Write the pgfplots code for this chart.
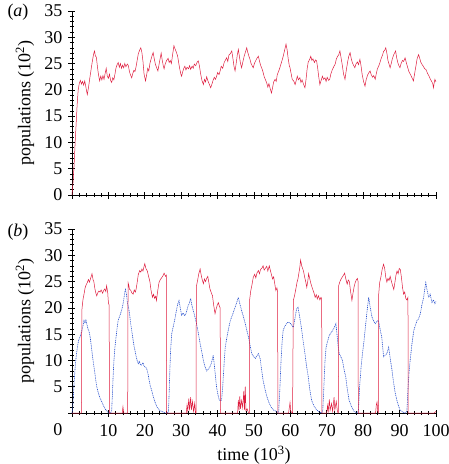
\documentclass[border=0pt]{standalone}
\usepackage{fontspec}
\setmainfont{Liberation Serif}
\usepackage{pgfplots}
\pgfplotsset{compat=1.18}
\definecolor{myred}{RGB}{222,28,62}
\definecolor{myblue}{RGB}{40,80,205}
\pgfplotsset{
  mystyle/.style={
    scale only axis, width=364pt, height=184pt,
    xmin=0, xmax=100, ymin=0, ymax=35,
    axis lines*=left,
    xtick={0,10,...,100}, ytick={0,5,...,35},
    minor x tick num=4, minor y tick num=4,
    tick align=center, major tick length=7pt, minor tick length=4pt,
    every tick/.style={black, line width=0.6pt},
    axis line style={line width=0.7pt},
    tick label style={font=\fontsize{18}{20}\selectfont, inner sep=0pt},
    label style={font=\fontsize{18}{20}\selectfont},
    /pgf/number format/assume math mode=true,
    yticklabel style={xshift=-6pt},
    xticklabel style={yshift=-8pt},
    ylabel={populations (10\textsuperscript{2})},
    ylabel style={at={(axis description cs:0,0.5)}, anchor=center, rotate=0, yshift=47pt},
    clip=false,
  }
}
\begin{document}
\begin{tikzpicture}
\path[use as bounding box] (-72pt,-269pt) rectangle (377pt,195pt);
\begin{axis}[mystyle, at={(0pt,0pt)}, anchor=south west, xticklabels={}]
\addplot[myred, line width=0.5pt] coordinates {
(0,0) (0.3,2.5) (0.6,6) (0.9,10.5) (1.1,13) (1.4,17) (1.7,20) (2.0,21.2) (2.3,21.8) (2.6,21.1) (2.9,21.6) (3.2,20.9) (3.5,21.7) (3.8,20.6) (4.0,19.8) (4.2,19.1) (4.5,20.3) (4.8,21.8) (5.1,23.2) (5.4,24.6) (5.7,25.9) (6.0,27.0) (6.2,27.4) (6.4,26.5) (6.7,26.2) (7.0,24.3) (7.3,22.8) (7.6,21.7) (7.9,22.6) (8.2,21.9) (8.5,22.7) (8.8,22.0) (9.1,23.1) (9.4,24.1) (9.7,22.6) (10.0,22.2) (10.3,23.0) (10.6,21.8) (10.9,21.4) (11.2,22.3) (11.5,21.9) (11.8,23.0) (12.1,24.2) (12.4,24.8) (12.7,25.2) (13.0,24.3) (13.3,25.0) (13.6,24.1) (13.9,24.7) (14.2,24.2) (14.5,25.0) (14.8,24.4) (15.2,24.9) (15.5,24.6) (15.8,23.4) (16.1,22.8) (16.4,22.3) (16.7,23.1) (17.0,23.7) (17.3,23.5) (17.6,24.4) (17.9,25.6) (18.2,26.8) (18.6,27.6) (18.9,28.0) (19.2,27.1) (19.5,25.4) (19.8,23.0) (20.2,21.7) (20.5,22.8) (20.8,24.1) (21.1,23.6) (21.4,25.0) (21.7,25.8) (22.0,26.5) (22.3,27.1) (22.6,25.9) (22.9,24.9) (23.2,24.3) (23.6,23.6) (23.9,24.8) (24.2,25.9) (24.5,27.0) (24.8,25.6) (25.1,24.5) (25.3,24.0) (25.6,24.9) (26.0,25.6) (26.4,26.0) (26.7,25.2) (27.0,25.6) (27.3,25.0) (27.6,26.5) (28.0,28.4) (28.3,27.8) (28.6,27.3) (29.0,26.5) (29.3,25.2) (29.6,24.0) (29.9,23.0) (30.1,22.6) (30.4,23.4) (30.7,24.1) (31.0,24.5) (31.3,23.8) (31.6,24.3) (32.0,24.0) (32.3,24.6) (32.6,23.9) (33.0,24.5) (33.3,24.1) (33.6,24.9) (34.0,24.6) (34.4,25.3) (34.7,25.5) (35.0,24.6) (35.3,23.2) (35.7,21.8) (36.1,21.0) (36.4,22.0) (36.7,21.5) (37.0,22.5) (37.3,21.8) (37.7,21.1) (38.1,20.4) (38.4,21.0) (38.8,21.9) (39.1,22.4) (39.4,22.0) (39.7,22.5) (40.0,23.3) (40.4,22.9) (40.7,23.6) (41.0,24.5) (41.4,24.1) (41.8,25.2) (42.1,25.6) (42.5,26.1) (42.8,25.4) (43.1,26.6) (43.5,26.9) (43.9,27.4) (44.2,26.0) (44.5,24.5) (44.8,23.6) (45.1,25.0) (45.4,26.6) (45.7,27.7) (46.0,26.3) (46.3,25.0) (46.6,24.2) (46.9,25.2) (47.3,26.4) (47.7,27.3) (48.0,28.0) (48.3,27.1) (48.6,26.4) (48.9,25.8) (49.2,25.0) (49.5,24.6) (49.8,24.2) (50.1,25.0) (50.5,25.6) (50.8,26.0) (51.2,26.4) (51.5,25.5) (51.8,24.7) (52.1,24.2) (52.4,23.6) (52.8,22.5) (53.1,22.0) (53.5,21.3) (53.8,20.5) (54.1,21.2) (54.5,20.1) (54.8,19.4) (55.1,20.4) (55.4,21.5) (55.8,22.0) (56.1,21.6) (56.4,22.9) (56.8,23.6) (57.1,24.2) (57.4,24.9) (57.8,25.8) (58.1,26.6) (58.4,27.5) (58.8,28.7) (59.1,27.6) (59.4,25.9) (59.7,24.6) (59.9,24.2) (60.2,23.1) (60.5,22.0) (60.9,21.7) (61.3,21.0) (61.6,21.8) (61.9,22.6) (62.2,21.9) (62.6,22.3) (62.9,21.4) (63.2,21.9) (63.6,21.1) (64.0,20.4) (64.3,22.0) (64.6,24.0) (64.9,25.3) (65.3,25.8) (65.6,26.4) (65.9,25.6) (66.2,25.9) (66.6,25.2) (66.9,25.7) (67.2,25.5) (67.5,24.1) (67.8,22.4) (68.1,21.0) (68.4,21.7) (68.8,22.6) (69.1,22.0) (69.5,22.3) (69.8,21.6) (70.1,22.4) (70.5,21.8) (70.8,22.0) (71.1,23.0) (71.5,23.8) (71.9,24.4) (72.3,24.9) (72.6,25.8) (72.9,26.3) (73.3,26.7) (73.6,27.4) (73.9,26.2) (74.3,24.5) (74.6,23.0) (75.0,22.0) (75.3,23.5) (75.7,25.2) (76.0,26.3) (76.4,27.1) (76.7,26.0) (77.0,25.2) (77.4,24.6) (77.7,24.2) (78.0,24.9) (78.4,25.3) (78.7,24.8) (79.1,25.8) (79.4,24.6) (79.7,23.0) (80.1,21.6) (80.5,20.7) (80.8,21.9) (81.2,22.8) (81.5,23.2) (81.9,23.6) (82.2,22.9) (82.6,22.4) (82.9,22.7) (83.3,22.0) (83.6,23.1) (83.9,24.0) (84.3,24.6) (84.6,25.2) (84.9,25.9) (85.3,26.6) (85.6,27.3) (85.9,27.5) (86.2,28.0) (86.5,27.0) (86.8,25.6) (87.1,24.9) (87.4,24.2) (87.7,25.0) (88.0,25.9) (88.4,26.7) (88.9,27.4) (89.2,26.1) (89.5,25.2) (89.8,24.6) (90.1,24.2) (90.4,25.0) (90.8,25.6) (91.1,25.4) (91.5,26.1) (91.8,25.3) (92.2,24.3) (92.6,23.4) (93.0,22.9) (93.4,22.3) (93.8,21.7) (94.1,23.0) (94.5,24.6) (94.8,25.9) (95.2,26.7) (95.5,26.1) (95.8,25.3) (96.2,24.8) (96.5,24.5) (96.9,24.0) (97.2,23.9) (97.4,23.6) (97.7,23.1) (98.1,22.6) (98.4,22.1) (98.8,21.6) (99.1,21.2) (99.3,20.4) (99.5,21.3) (99.7,22.0) (100,21.5)
};
\node[font=\fontsize{18}{20}\selectfont] at (rel axis cs:0,1) [xshift=-54pt, yshift=-1pt] {(\textit{a})};
\end{axis}
\begin{axis}[mystyle, at={(0pt,-218pt)}, anchor=south west,
  yticklabels={,5,10,15,20,25,30,35},
  xticklabels={,10,20,30,40,50,60,70,80,90,100},
  xlabel={time (10\textsuperscript{3})},
  xlabel style={at={(axis description cs:0.5,0)}, anchor=center, yshift=-42pt}]
\addplot[myblue, line width=0.6pt, dash pattern=on 1pt off 0.8pt] coordinates {
(0,0) (0.2,1.0) (0.4,3.5) (0.6,6.0) (0.8,8.1) (1.0,9.8) (1.3,11.6) (1.6,13.0) (1.8,13.8) (2.1,14.3) (2.4,14.9) (2.7,15.7) (3.0,16.5) (3.3,17.6) (3.6,17.1) (3.8,17.8) (4.1,16.8) (4.4,16.0) (4.7,15.5) (5.0,14.4) (5.3,12.8) (5.6,11.0) (5.9,9.4) (6.2,8.0) (6.5,6.4) (6.8,5.0) (7.2,3.9) (7.6,3.0) (8.2,2.1) (8.7,1.3) (9.2,0.7) (9.7,0.3) (10.1,0) (10.6,0) (10.9,0.5) (11.1,3.5) (11.3,7.0) (11.5,9.8) (11.8,12.5) (12.1,14.4) (12.4,16.2) (12.7,17.7) (13.0,18.2) (13.3,18.8) (13.6,19.5) (13.9,20.3) (14.2,21.5) (14.5,23.0) (14.7,23.5) (15.0,22.4) (15.2,21.1) (15.5,20.2) (15.8,18.9) (16.1,17.1) (16.4,15.7) (16.7,14.3) (17.0,12.9) (17.3,11.9) (17.6,10.8) (17.9,10.0) (18.2,9.4) (18.5,9.8) (18.8,9.2) (19.1,9.1) (19.5,9.6) (19.8,8.9) (20.2,8.7) (20.5,8.5) (20.9,7.4) (21.2,6.2) (21.5,5.2) (21.9,4.3) (22.3,3.2) (22.8,2.1) (23.3,1.2) (23.8,0.7) (24.3,0.4) (24.7,0.3) (25.3,0.1) (26.0,0) (26.5,0.2) (26.7,4.0) (26.9,8.5) (27.1,12.0) (27.4,15.1) (27.8,16.4) (28.3,18.0) (28.6,19.2) (29.0,20.6) (29.4,21.4) (29.7,20.2) (30.1,18.6) (30.5,19.0) (31.0,18.5) (31.4,19.1) (31.9,20.4) (32.2,20.8) (32.6,21.8) (32.9,20.6) (33.3,19.5) (33.6,18.8) (34.2,17.0) (34.6,15.6) (35.2,13.2) (35.6,11.8) (36.1,10.0) (36.5,8.9) (37.0,8.0) (37.4,8.3) (37.9,8.8) (38.3,9.5) (38.8,11.0) (39.2,8.5) (39.7,5.0) (40.0,3.8) (40.4,2.6) (40.8,2.3) (41.1,2.5) (41.4,5.0) (41.8,9.5) (42.1,12.5) (42.5,14.2) (43.0,16.0) (43.5,17.6) (44.0,18.5) (44.4,19.3) (44.8,20.1) (45.2,20.9) (45.7,22.0) (46.1,20.8) (46.6,19.5) (47.1,18.3) (47.6,17.0) (48.0,15.8) (48.5,14.4) (49.0,12.6) (49.4,11.3) (49.9,10.7) (50.4,10.4) (50.8,10.9) (51.2,11.3) (51.7,10.3) (52.1,8.2) (52.5,6.2) (53.0,4.6) (53.5,3.2) (54.1,2.0) (54.8,1.0) (55.5,0.5) (56.2,0.3) (56.6,0) (56.8,0.4) (57.1,4.5) (57.4,9.5) (57.7,13.3) (58.0,15.7) (58.4,16.4) (58.9,17.0) (59.4,17.3) (59.9,17.1) (60.3,16.8) (60.8,16.3) (61.2,17.8) (61.7,19.8) (62.1,20.1) (62.5,18.5) (63.0,16.3) (63.5,13.7) (64.0,11.3) (64.4,9.1) (64.9,6.9) (65.3,4.6) (65.8,2.5) (66.5,1.3) (67.2,0.6) (67.9,0.2) (68.6,0) (68.9,0.5) (69.2,5.0) (69.5,9.8) (69.8,12.5) (70.2,13.6) (70.7,14.8) (71.1,15.2) (71.6,15.7) (72.0,16.2) (72.5,17.0) (72.8,15.0) (73.1,12.8) (73.4,11.3) (73.8,10.8) (74.3,10.0) (74.7,8.4) (75.2,6.9) (75.6,4.7) (76.1,2.5) (76.8,1.2) (77.5,0.3) (78.4,0) (78.7,0.5) (79.0,4.8) (79.4,8.6) (79.8,11.3) (80.2,13.6) (80.6,16.3) (81.0,19.0) (81.5,22.0) (81.9,20.2) (82.4,18.3) (82.8,17.6) (83.3,17.0) (83.7,17.4) (84.2,17.6) (84.6,16.1) (85.1,14.4) (85.6,10.7) (86.0,11.0) (86.5,11.3) (87.0,12.5) (87.4,10.5) (87.9,8.2) (88.3,6.0) (88.8,3.8) (89.4,2.0) (90.1,0.6) (90.8,0.2) (91.6,0) (92.0,0.3) (92.3,4.5) (92.6,7.8) (92.9,10.0) (93.4,13.2) (93.9,15.7) (94.3,16.6) (94.8,17.6) (95.2,17.9) (95.7,18.9) (96.1,20.5) (96.6,22.0) (96.9,23.5) (97.2,24.8) (97.6,23.2) (98.0,22.0) (98.4,22.6) (98.9,21.0) (99.3,21.5) (99.7,20.8) (100,21.2)
};
\addplot[myred, line width=0.5pt] coordinates {
(0,0) (1.5,0) (2.6,0) (2.7,19.5) (3.0,21.5) (3.3,22.6) (3.6,23.8) (3.9,24.4) (4.2,24.8) (4.5,25.4) (4.8,24.9) (5.2,25.8) (5.5,26.5) (5.8,25.3) (6.0,25.0) (6.3,23.6) (6.6,22.7) (6.8,22.3) (7.1,22.9) (7.4,23.2) (7.7,23.0) (8.0,23.4) (8.4,22.8) (8.7,23.3) (9.0,23.6) (9.3,23.1) (9.5,24.2) (9.8,23.0) (10.0,21.0) (10.2,20.5) (10.3,0) (11.5,0) (13.8,0) (14.0,1.2) (14.2,0) (15.3,0) (15.4,24.8) (15.6,24.3) (15.8,23.5) (16.1,23.4) (16.4,22.9) (16.8,22.6) (17.1,23.4) (17.4,23.0) (17.6,23.5) (17.9,24.8) (18.2,26.3) (18.6,27.1) (18.9,26.8) (19.2,27.4) (19.5,27.0) (19.8,27.9) (20.0,28.4) (20.3,27.5) (20.7,27.0) (21.0,26.1) (21.4,25.0) (21.7,23.4) (22.1,22.0) (22.4,22.6) (22.7,21.8) (23.0,22.2) (23.2,21.4) (23.5,23.0) (23.9,24.8) (24.2,25.3) (24.6,25.7) (25.0,26.1) (25.3,26.6) (25.7,26.0) (25.9,26.2) (26.0,0) (28.0,0) (31.4,0) (31.6,1.5) (31.8,0.4) (32.1,2.8) (32.3,0.5) (32.6,3.0) (32.8,0.6) (33.1,2.2) (33.4,0.3) (33.7,1.8) (33.9,0) (34.1,0) (34.15,24.0) (34.5,25.2) (34.8,26.4) (35.2,27.4) (35.5,26.2) (35.8,25.3) (36.1,24.6) (36.4,25.5) (36.7,25.0) (37.0,25.6) (37.3,26.0) (37.6,24.8) (37.9,23.6) (38.3,22.8) (38.6,22.3) (38.9,20.6) (39.3,18.9) (39.6,19.8) (39.9,20.5) (40.2,21.0) (40.5,20.3) (40.7,20.0) (40.8,0) (43,0) (45.5,0) (45.7,2.5) (45.9,0.5) (46.1,3.2) (46.3,0.8) (46.6,2.4) (46.9,1.0) (47.2,4.2) (47.4,0.6) (47.6,5.0) (47.8,0.4) (48.1,0.8) (48.5,0) (48.7,0) (48.8,21.5) (49.1,23.2) (49.5,24.6) (49.8,25.8) (50.2,26.4) (50.5,25.7) (50.8,26.6) (51.2,27.1) (51.5,26.5) (51.8,27.3) (52.2,27.6) (52.5,28.0) (52.8,27.2) (53.1,27.5) (53.5,27.9) (53.8,27.0) (54.2,28.0) (54.5,27.1) (54.8,26.3) (55.1,25.5) (55.4,25.9) (55.7,24.6) (56.0,23.3) (56.3,23.8) (56.5,23.0) (56.55,0) (58.5,0) (59.5,0) (59.7,1.0) (59.9,2.0) (60.1,0.3) (60.6,0) (60.8,21.4) (61.1,22.2) (61.5,23.6) (61.8,24.8) (62.1,25.6) (62.4,26.9) (62.6,27.8) (62.8,29.1) (63.1,28.0) (63.3,27.6) (63.6,27.0) (63.9,25.9) (64.2,25.0) (64.5,23.9) (64.8,25.2) (65.0,26.5) (65.3,25.6) (65.6,24.7) (65.9,24.0) (66.2,23.4) (66.5,22.8) (66.8,22.0) (67.1,22.5) (67.4,21.7) (67.7,22.3) (68.1,21.5) (68.4,22.0) (68.6,21.8) (68.65,0) (70.0,0) (70.2,1.4) (70.4,0.3) (70.7,2.6) (70.9,0.5) (71.3,1.8) (71.6,0.3) (72.0,3.0) (72.2,0.6) (72.6,2.2) (72.9,0.4) (73.1,0) (73.2,0) (73.25,24.2) (73.6,25.0) (74.0,25.6) (74.4,26.0) (74.9,26.6) (75.2,25.6) (75.6,24.5) (75.9,25.3) (76.2,25.0) (76.5,23.3) (76.9,21.4) (77.2,22.8) (77.5,24.0) (77.8,24.8) (78.1,25.3) (78.4,25.6) (78.6,25.0) (78.65,0) (80.0,0) (83.4,0) (83.6,1.5) (83.8,2.1) (84.0,0.3) (84.2,0) (84.25,22.5) (84.5,24.7) (84.9,26.0) (85.2,27.3) (85.6,28.3) (85.9,27.5) (86.2,25.8) (86.5,24.9) (86.8,25.6) (87.1,25.2) (87.4,26.0) (87.8,24.9) (88.1,24.2) (88.4,23.5) (88.7,24.8) (89.0,26.2) (89.3,27.0) (89.6,26.5) (89.9,27.5) (90.2,27.3) (90.5,25.8) (90.8,23.9) (91.1,22.6) (91.4,23.0) (91.7,21.8) (92.0,21.5) (92.3,22.0) (92.35,0) (95,0) (99.5,0) (100,0.3)
};
\node[font=\fontsize{18}{20}\selectfont] at (rel axis cs:0,0) [xshift=-14pt, yshift=-17pt] {0};
\node[font=\fontsize{18}{20}\selectfont] at (rel axis cs:0,1) [xshift=-54pt, yshift=-3pt] {(\textit{b})};
\end{axis}
\end{tikzpicture}
\end{document}
